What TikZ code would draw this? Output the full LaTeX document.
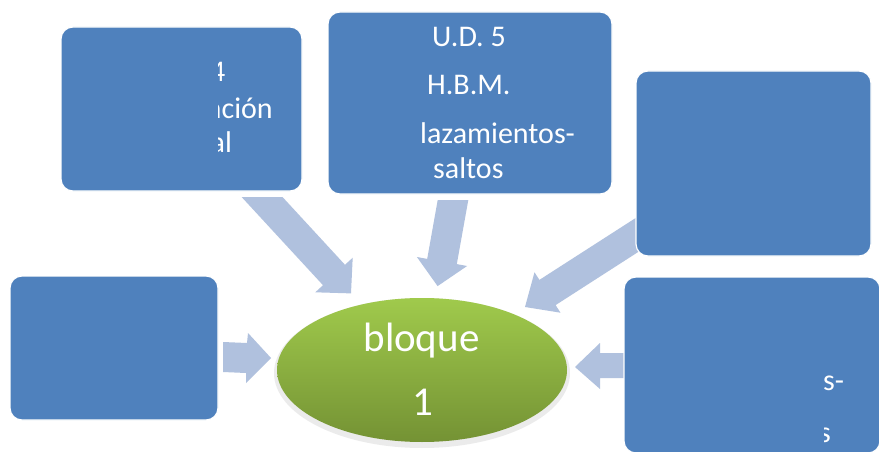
\documentclass[tikz,border=0pt]{standalone}
\usepackage{fontspec}
\setmainfont{Carlito}
\usetikzlibrary{shapes.geometric}
\definecolor{boxblue}{HTML}{4F81BD}
\definecolor{arrowblue}{HTML}{B0C1DE}
\definecolor{greentop}{RGB}{160,202,76}
\definecolor{greenbot}{RGB}{116,146,52}
\tikzset{
  bluebox/.style={fill=boxblue, draw=white, line width=1.2pt, rounded corners=12pt},
  blockarrow/.style={fill=arrowblue, draw=none},
  boxtext/.style={text=white, inner sep=0pt, anchor=base west, font=\fontsize{30}{36}\selectfont},
  bigtext/.style={text=white, inner sep=0pt, anchor=base, font=\fontsize{41}{48}\selectfont}
}
\begin{document}
\begin{tikzpicture}[x=1pt, y=-1pt]
\useasboundingbox (0,0) rectangle (879,452);
\fill[white] (0,0) rectangle (879,452);
% block arrows (under the boxes)
\fill[blockarrow] (241.6,197) -- (282.5,197) -- (345,264.8) -- (352.7,257.7) -- (351,293.4) -- (315.3,292.3) -- (323,285.2) -- cycle;
\fill[blockarrow] (437.7,200) -- (468.3,200) -- (456.8,264.1) -- (467.1,266.0) -- (437.6,286.1) -- (416.9,257.0) -- (427.2,258.9) -- cycle;
\fill[blockarrow] (645,212) -- (645,247.6) -- (555.6,305.1) -- (560.5,312.7) -- (525,307) -- (534.5,272.3) -- (539.4,279.9) -- cycle;
\fill[blockarrow] (223,342) -- (247,343) -- (248,333) -- (271,358) -- (246,383) -- (246,373) -- (223,372) -- cycle;
\fill[blockarrow] (630,353) -- (600,353) -- (600,343) -- (575,367) -- (600,389) -- (600,378) -- (630,378) -- cycle;
% boxes
\draw[bluebox] (61,27) rectangle (302,191);
\draw[bluebox] (328,12) rectangle (612,194);
\draw[bluebox] (636,71) rectangle (871,256);
\draw[bluebox] (10,276) rectangle (218,420);
\draw[bluebox] (624,277) rectangle (880,453);
% central ellipse
\fill[black, opacity=0.08] (422,373) ellipse [x radius=148, y radius=75];
\node[ellipse, minimum width=290pt, minimum height=144pt, top color=greentop, bottom color=greenbot, draw=none] (c) at (422,370) {};
\node[bigtext] (c1) at (421.5,351) {bloque};
\node[bigtext] (c2) at (423,415) {1};
% top middle text
\node[boxtext] (t1) at (432,47) {U.D. 5};
\node[boxtext] (t2) at (427,95) {H.B.M.};
\node[boxtext] (t3) at (420,143) {lazamientos-};
\node[boxtext] (t4) at (433,178) {saltos};
% top left text (clipped on the left)
\begin{scope}
\clip (218,30) rectangle (300,188);
\node[boxtext] (l1) at (210,82) {4};
\node[boxtext] (l2) at (207,118) {ación};
\node[boxtext] (l3) at (210.5,153) {al};
\end{scope}
% bottom right text (clipped on the left)
\begin{scope}
\clip (824,280) rectangle (879,452);
\node[boxtext] (r1) at (823,390) {s-};
\node[boxtext] (r2) at (819,442) {s};
\end{scope}
\end{tikzpicture}
\end{document}
